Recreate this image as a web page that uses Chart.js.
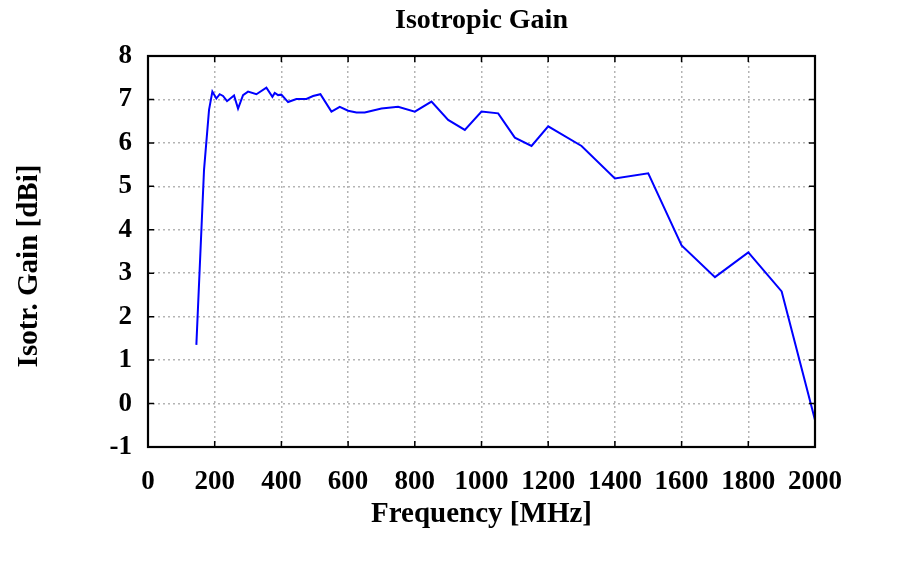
<!DOCTYPE html>
<html>
<head>
<meta charset="utf-8">
<script src="https://cdn.jsdelivr.net/npm/chart.js@4/dist/chart.umd.min.js"></script>
<style>
    body { margin: 0; background: #fff; }
    #wrap { width: 920px; height: 565px; }
</style>
</head>
<body>
<div id="wrap"><canvas id="gainChart" width="920" height="565"></canvas></div>
<script>
// Frequency points (MHz) and isotropic gain (dBi)
const frequencies = [145, 168, 183, 193, 205, 215, 225, 237, 258, 270, 285, 300, 325, 355, 373, 380, 390, 400,
    420, 445, 475, 495, 517, 550, 575, 600, 625, 650, 700, 750, 800, 850, 900, 950, 1000, 1050,
    1100, 1150, 1200, 1300, 1400, 1500, 1600, 1700, 1800, 1900, 2000];
const gains = [1.35, 5.38, 6.76, 7.18, 7.02, 7.12, 7.08, 6.96, 7.09, 6.79, 7.10, 7.18, 7.12, 7.27, 7.06, 7.15, 7.10, 7.11,
    6.94, 7.01, 7.01, 7.08, 7.12, 6.72, 6.83, 6.74, 6.70, 6.70, 6.79, 6.83, 6.72, 6.95, 6.53, 6.30, 6.72, 6.68,
    6.12, 5.93, 6.38, 5.93, 5.18, 5.30, 3.64, 2.91, 3.48, 2.58, -0.38];

const chartTitle = 'Isotropic Gain';
const xTitle = 'Frequency [MHz]';
const yTitle = 'Isotr. Gain [dBi]';

const serif = '"Liberation Serif", "Times New Roman", serif';

// Cadre noir + petites graduations vers l'intérieur sur les 4 côtés
const framePlugin = {
    id: 'frame',
    afterDraw(chart) {
        const { ctx, chartArea: a, scales } = chart;
        const len = 6;
        ctx.save();
        ctx.strokeStyle = '#000';
        ctx.lineWidth = 1.5;
        ctx.beginPath();
        scales.x.ticks.forEach(t => {
            const px = scales.x.getPixelForValue(t.value);
            ctx.moveTo(px, a.bottom); ctx.lineTo(px, a.bottom - len);
            ctx.moveTo(px, a.top); ctx.lineTo(px, a.top + len);
        });
        scales.y.ticks.forEach(t => {
            const py = scales.y.getPixelForValue(t.value);
            ctx.moveTo(a.left, py); ctx.lineTo(a.left + len, py);
            ctx.moveTo(a.right, py); ctx.lineTo(a.right - len, py);
        });
        ctx.stroke();
        ctx.lineWidth = 2.2;
        ctx.strokeRect(a.left, a.top, a.right - a.left, a.bottom - a.top);

        // titre de l'axe Y
        ctx.fillStyle = '#000';
        ctx.font = 'bold 29px ' + serif;
        ctx.textAlign = 'center';
        ctx.textBaseline = 'middle';
        ctx.translate(30, 266);
        ctx.rotate(-Math.PI / 2);
        ctx.fillText(yTitle, 0, 0);
        ctx.restore();
    }
};

const ctx = document.getElementById('gainChart').getContext('2d');
new Chart(ctx, {
    type: 'line',
    data: {
        datasets: [{
            data: frequencies.map((f, i) => ({ x: f, y: gains[i] })),
            borderColor: '#0000ff',
            borderWidth: 2,
            pointRadius: 0,
            tension: 0,
            fill: false
        }]
    },
    options: {
        responsive: false,
        animation: false,
        layout: { padding: { left: 0, right: 105, top: 0, bottom: 0 } },
        plugins: {
            legend: { display: false },
            tooltip: { enabled: false },
            title: {
                display: true,
                text: chartTitle,
                fullSize: false,
                color: '#000',
                font: { family: serif, size: 28, weight: 'bold' },
                padding: { top: 4, bottom: 18.4 }
            }
        },
        scales: {
            x: {
                type: 'linear',
                min: 0,
                max: 2000,
                border: { display: false, dash: [2, 3] },
                grid: { color: '#b4b4b4', lineWidth: 1.5, drawTicks: false },
                ticks: {
                    stepSize: 200,
                    color: '#000',
                    padding: 19,
                    maxRotation: 0,
                    font: { family: serif, size: 27, weight: 'bold' },
                    callback: value => String(value)
                },
                title: {
                    display: true,
                    text: xTitle,
                    color: '#000',
                    font: { family: serif, size: 29, weight: 'bold' },
                    padding: { top: 0, bottom: 33 }
                },
                afterFit(scale) { scale.height = 118; }
            },
            y: {
                min: -1,
                max: 8,
                border: { display: false, dash: [2, 3] },
                grid: { color: '#b4b4b4', lineWidth: 1.5, drawTicks: false },
                ticks: {
                    stepSize: 1,
                    color: '#000',
                    padding: 16,
                    font: { family: serif, size: 27, weight: 'bold' },
                    callback: value => String(value)
                },
                afterFit(scale) { scale.width = 148; }
            }
        }
    },
    plugins: [framePlugin]
});
</script>
</body>
</html>
